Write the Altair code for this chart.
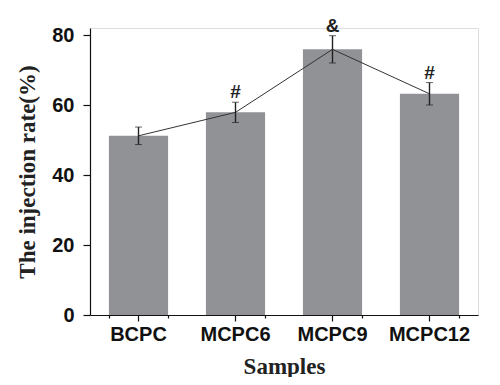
import altair as alt
import pandas as pd

samples = ["BCPC", "MCPC6", "MCPC9", "MCPC12"]
rates = [51.2, 57.9, 75.9, 63.2]
errors = [2.5, 2.9, 3.9, 3.2]
marks = ["", "#", "&", "#"]

df = pd.DataFrame({"sample": samples, "rate": rates, "err": errors, "mark": marks})
df["lo"] = df["rate"] - df["err"]
df["hi"] = df["rate"] + df["err"]

Y_TITLE = "The injection rate(%)"
x_scale = alt.Scale(domain=samples, paddingInner=0.39, paddingOuter=0.195)
y_scale = alt.Scale(domain=[0, 82], nice=False)

x_main = alt.X(
    "sample:N", scale=x_scale, sort=samples,
    axis=alt.Axis(
        orient="bottom",
        title="Samples", labelAngle=0, labelFont="Liberation Sans", labelFontWeight="bold",
        labelFontSize=20, labelColor="#111", labelPadding=3, tickSize=6, tickColor="#111",
        domainColor="#111", domainWidth=1.2, tickWidth=1.2,
        titleFont="Liberation Serif", titleFontSize=23, titleFontWeight="bold",
        titleColor="#222", titlePadding=11,
    ),
)
y_main = alt.Y(
    "rate:Q", scale=y_scale,
    axis=alt.Axis(
        title=Y_TITLE, values=[0, 10, 20, 30, 40, 50, 60, 70, 80],
        labelExpr="datum.value % 20 == 0 ? datum.label : ''",
        tickSize={"condition": {"test": "datum.value % 20 == 0", "value": 7}, "value": 3},
        labelFont="Liberation Sans", labelFontWeight="bold", labelFontSize=20,
        labelColor="#111", labelPadding=9, tickColor="#111", domainColor="#111",
        domainWidth=1.2, tickWidth=1.2, grid=False,
        titleFont="Liberation Serif", titleFontSize=23, titleFontWeight="bold",
        titleColor="#222", titlePadding=12,
    ),
)

bars = alt.Chart(df).mark_bar(color="#919296").encode(x=x_main, y=y_main)

x_plain = alt.X("sample:N", scale=x_scale, sort=samples, axis=None)

line = alt.Chart(df).mark_line(color="#333", strokeWidth=1).encode(
    x=x_plain,
    y=alt.Y("rate:Q", scale=y_scale, title=Y_TITLE),
)

errbars = alt.Chart(df).mark_errorbar(ticks=alt.MarkConfig(size=7, color="#222", strokeWidth=1.4),
                                       rule=alt.MarkConfig(color="#222", strokeWidth=1.4)).encode(
    x=x_plain,
    y=alt.Y("lo:Q", scale=y_scale, title=Y_TITLE),
    y2="hi:Q",
)

labels = alt.Chart(df).mark_text(
    font="Liberation Sans", fontWeight="bold", fontSize=19, color="#222",
    baseline="alphabetic", dy=-4,
).encode(
    x=x_plain,
    y=alt.Y("hi:Q", scale=y_scale, title=Y_TITLE),
    text="mark:N",
)

# boundary ticks on the x axis
bound = alt.Chart(df).mark_point(opacity=0).encode(
    x=alt.X(
        "sample:N", scale=x_scale, sort=samples,
        axis=alt.Axis(orient="bottom", title=None, labels=False, domain=False, tickBand="extent",
                      tickSize=3, tickColor="#111", tickWidth=1.2),
    ),
    y=alt.Y("rate:Q", scale=y_scale, title=Y_TITLE),
)

chart = (
    alt.layer(bars, line, errbars, labels, bound)
    .resolve_axis(x="independent")
    .properties(
        width=388, height=287,
        padding={"left": 82, "top": 20, "right": 14, "bottom": 62},
        autosize=alt.AutoSizeParams(type="none"),
    )
    .configure_view(stroke=None)
    .configure(background="white")
)

chart.save("out.html", embed_options={"renderer": "svg", "actions": False})
